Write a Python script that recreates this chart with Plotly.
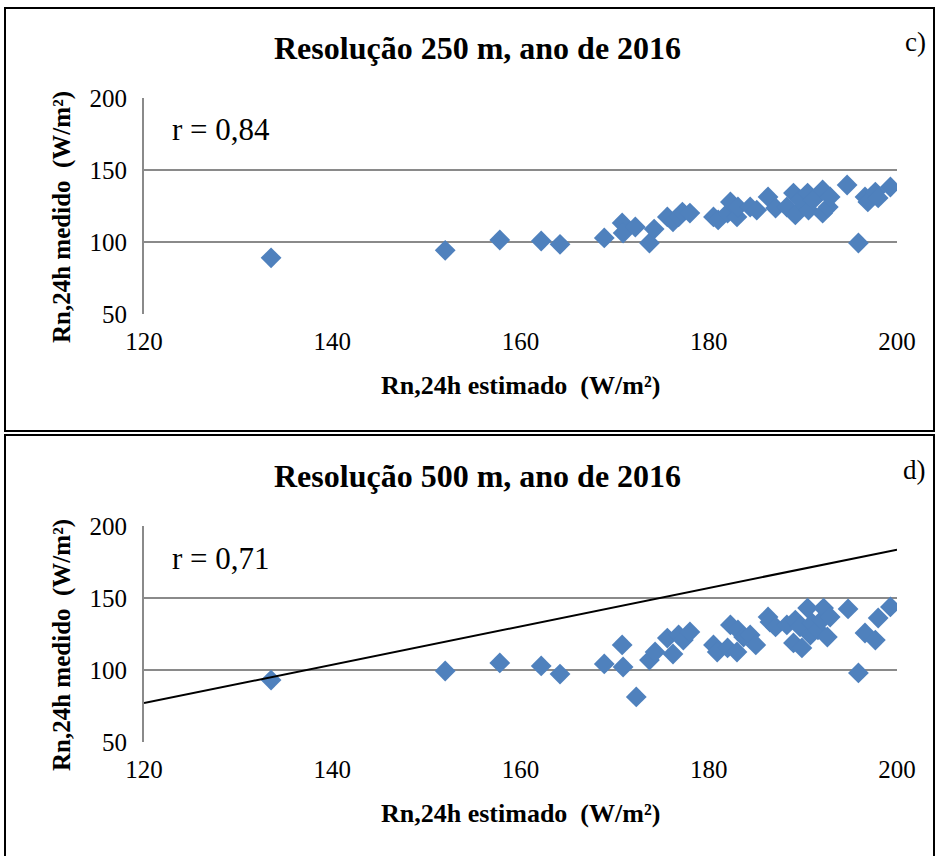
import plotly.graph_objects as go

# ---- data: panel c) 250 m ----
x_250 = [133.5, 152.0, 157.8, 162.2, 164.2, 168.9, 170.8, 170.9, 172.2, 173.7,
         174.2, 175.6, 176.2, 176.8, 177.2, 178.0, 180.5, 181.0, 182.0, 182.3,
         183.0, 183.1, 184.4, 185.1, 186.3, 187.1, 188.3, 189.0, 189.2, 189.7,
         190.5, 190.6, 191.1, 192.1, 192.1, 192.7, 192.9, 194.7, 195.9, 196.6,
         196.9, 197.7, 198.0, 199.3]
y_250 = [89.0, 94.2, 101.4, 100.7, 98.4, 102.8, 113.2, 106.2, 110.4, 99.3,
         109.0, 117.4, 114.0, 117.4, 120.8, 120.1, 117.4, 115.3, 120.0, 127.8,
         117.4, 124.3, 124.3, 122.2, 131.3, 123.6, 124.3, 134.0, 118.8, 129.2,
         134.0, 122.2, 129.2, 136.1, 120.0, 124.3, 131.3, 139.6, 99.3, 131.3,
         127.8, 134.7, 130.6, 138.2]

# ---- data: panel d) 500 m ----
x_500 = [133.5, 152.0, 157.8, 162.2, 164.2, 168.9, 170.8, 170.9, 172.3, 173.7,
         174.3, 175.6, 176.2, 176.8, 177.3, 178.0, 180.5, 180.9, 182.0, 182.3,
         183.0, 183.1, 183.7, 184.4, 185.0, 186.3, 186.5, 187.1, 188.3, 189.0,
         189.2, 189.7, 189.9, 190.5, 190.8, 191.0, 191.6, 192.0, 192.2, 192.6,
         192.9, 194.8, 195.9, 196.6, 197.7, 198.0, 199.3]
y_500 = [93.0, 99.3, 104.9, 102.8, 97.2, 104.2, 117.4, 102.1, 81.3, 106.9,
         112.5, 122.2, 111.1, 124.3, 120.8, 126.4, 117.4, 112.5, 115.3, 131.3,
         112.5, 127.8, 122.9, 124.3, 117.4, 136.8, 133.3, 129.9, 131.3, 118.8,
         134.7, 129.9, 115.3, 143.0, 124.3, 132.6, 127.8, 134.7, 143.0, 122.9,
         136.8, 142.4, 98.0, 125.7, 120.8, 136.1, 143.8]

# trend line of panel d)
line_x = [120, 200]
line_y = [77.0, 183.6]

titles = ["Resolução 250 m, ano de 2016", "Resolução 500 m, ano de 2016"]
panel_tags = ["c)", "d)"]
r_texts = ["r = 0,84", "r = 0,71"]
x_title = "Rn,24h estimado  (W/m²)"
y_title = "Rn,24h medido  (W/m²)"
x_ticks = [120, 140, 160, 180, 200]
y_ticks = [50, 100, 150, 200]

W, H = 936, 856
SERIF = "Liberation Serif"
BLUE = "#4F81BD"
GRID = "#8a8a8a"


def px(x):
    return x / W


def py(y):
    return 1 - y / H


fig = go.Figure()

fig.add_trace(go.Scatter(x=x_250, y=y_250, mode="markers",
                         marker=dict(symbol="diamond", size=16, color=BLUE),
                         xaxis="x", yaxis="y", showlegend=False))
fig.add_trace(go.Scatter(x=x_500, y=y_500, mode="markers",
                         marker=dict(symbol="diamond", size=16, color=BLUE),
                         xaxis="x2", yaxis="y2", showlegend=False))
fig.add_trace(go.Scatter(x=line_x, y=line_y, mode="lines",
                         line=dict(color="black", width=2),
                         xaxis="x2", yaxis="y2", showlegend=False))

xdom = [px(144), px(897)]
ydoms = [[py(314), py(98)], [py(742), py(526)]]

ax_common_x = dict(range=[120, 200], tickvals=x_ticks, showgrid=False,
                   zeroline=False, showline=False, ticks="",
                   tickfont=dict(family=SERIF, size=25, color="black"),
                   ticklabelstandoff=10, automargin=False, fixedrange=True)
ax_common_y = dict(range=[50, 200], tickvals=y_ticks, showgrid=True,
                   gridcolor=GRID, gridwidth=2, zeroline=False,
                   showline=True, linecolor=GRID, linewidth=2, ticks="",
                   tickfont=dict(family=SERIF, size=25, color="black"),
                   ticklabelstandoff=10, automargin=False, fixedrange=True)

fig.update_layout(
    width=W, height=H,
    margin=dict(l=0, r=0, t=0, b=0),
    paper_bgcolor="white", plot_bgcolor="white",
    xaxis=dict(domain=xdom, anchor="y", **ax_common_x),
    yaxis=dict(domain=ydoms[0], anchor="x", **ax_common_y),
    xaxis2=dict(domain=xdom, anchor="y2", **ax_common_x),
    yaxis2=dict(domain=ydoms[1], anchor="x2", **ax_common_y),
)

shapes = [
    dict(type="rect", xref="paper", yref="paper",
         x0=px(5), x1=px(934), y0=py(431), y1=py(8),
         line=dict(color="black", width=2)),
    dict(type="rect", xref="paper", yref="paper",
         x0=px(5), x1=px(934), y0=py(870), y1=py(435),
         line=dict(color="black", width=2)),
]
fig.update_layout(shapes=shapes)

annotations = []
offsets = [0, 428]
for i in range(2):
    o = offsets[i]
    annotations.append(dict(text="<b>" + titles[i] + "</b>", xref="paper", yref="paper",
                            x=px(478), y=py(48 + o), xanchor="center", yanchor="middle",
                            showarrow=False, font=dict(family=SERIF, size=32, color="black")))
    annotations.append(dict(text=panel_tags[i], xref="paper", yref="paper",
                            x=px(928), y=py(42 + o), xanchor="right", yanchor="middle",
                            showarrow=False, font=dict(family=SERIF, size=27, color="black")))
    annotations.append(dict(text=r_texts[i], xref="paper", yref="paper",
                            x=px(170), y=py(130 + o), xanchor="left", yanchor="middle",
                            showarrow=False, font=dict(family=SERIF, size=31, color="black")))
    annotations.append(dict(text="<b>" + x_title + "</b>", xref="paper", yref="paper",
                            x=px(520), y=py(385 + o), xanchor="center", yanchor="middle",
                            showarrow=False, font=dict(family=SERIF, size=26, color="black")))
    annotations.append(dict(text="<b>" + y_title + "</b>", xref="paper", yref="paper",
                            x=px(62), y=py(217 + o), xanchor="center", yanchor="middle",
                            textangle=-90,
                            showarrow=False, font=dict(family=SERIF, size=25, color="black")))
fig.update_layout(annotations=annotations)

fig.write_html("out.html",
               config={"displayModeBar": False, "staticPlot": True},
               post_script="document.body.style.margin='0';document.body.style.overflow='hidden';")
